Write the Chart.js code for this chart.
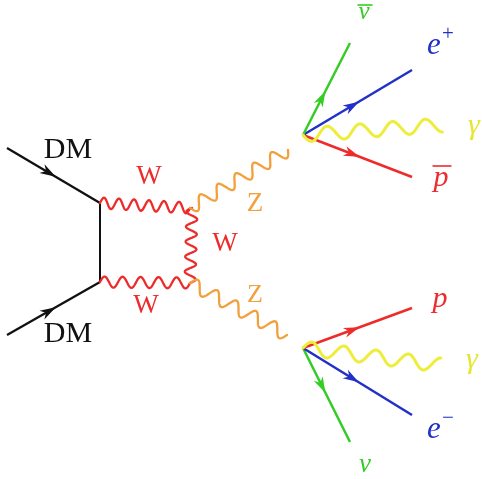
<!DOCTYPE html>
<html><head><meta charset="utf-8">
<script src="https://cdn.jsdelivr.net/npm/chart.js@4"></script>
<style>html,body{margin:0;padding:0;background:#fff;overflow:hidden}#wrap{width:482px;height:479px}</style>
</head><body><div id="wrap"><canvas id="c" width="482" height="479"></canvas></div>
<script>
// ---- diagram data (coordinates in the picture's own units) ----
const lineNames = ['DM in (top)','DM in (bottom)','DM exchange','W (top)','W (exchange)','W (bottom)','Z (top)','Z (bottom)',
                   'anti-neutrino','positron','photon (top)','antiproton','proton','photon (bottom)','electron','neutrino'];
const lineKinds = ['fermion','fermion','plain','boson','boson','boson','boson','boson',
                   'fermion','fermion','boson','fermion','fermion','boson','fermion','fermion'];
const startX = [7, 7, 100, 100, 192, 100, 190, 190, 303, 303, 303, 303, 303, 303, 303, 303];
const startY = [148, 335, 203, 203, 208, 282, 208, 283, 135, 135, 135, 135, 348, 348, 348, 348];
const endX   = [100, 100, 100, 190, 190, 190, 288, 287, 350, 412, 442, 412, 412, 440, 412, 350];
const endY   = [203, 282, 282, 208, 283, 283, 150, 335, 43, 70, 125, 177, 308, 365, 415, 442];

const labelTexts = ['DM','DM','W','W','W','Z','Z','ν','e','γ','p','p','γ','e','ν'];
const labelMarks = ['','','','','','','','bar','+','','bar','','','−',''];
const labelX = [68, 68, 149, 225, 146, 255, 255, 364, 434, 474, 441, 440, 472, 434, 365];
const labelY = [158, 342, 184, 251, 313, 211, 302, 19, 54, 134, 186, 307, 368, 438, 472];

// ---- styles ----
const C = {black:'#111111', red:'#ee2b2b', orange:'#f2a03c', yellow:'#eded3c', green:'#35cc25', blue:'#2230c8'};
const lineColors = [C.black,C.black,C.black,C.red,C.red,C.red,C.orange,C.orange,
                    C.green,C.blue,C.yellow,C.red,C.red,C.yellow,C.blue,C.green];
const lineWidths = [2.3,2.3,2,2.3,2.3,2.3,2.3,2.3,2.5,2.5,3,2.5,2.5,3,2.5,2.5];
const wavePeriods = [0,0,0,6,5,5,5.5,5,0,0,4.25,0,0,4.25,0,0];
const waveAmp     = [0,0,0,5.5,5.5,5.5,6.5,6.5,0,0,7,0,0,7,0,0];
const waveSign    = [0,0,0,-1,1,-1,1,-1,0,0,1,0,0,-1,0,0];
const arrowPos    = [0.45,0.45,0,0,0,0,0,0,0.4,0.45,0,0.45,0.45,0,0.45,0.4];
const serif = '"Liberation Serif"';
const labelColors = [C.black,C.black,C.red,C.red,C.red,C.orange,C.orange,C.green,C.blue,'#e6e62e',C.red,C.red,'#e6e62e',C.blue,C.green];
const labelFonts  = ['30px '+serif,'30px '+serif,'27px '+serif,'27px '+serif,'27px '+serif,'27px '+serif,'26px '+serif,
                     'italic 25px '+serif,'italic 31px '+serif,'italic 30px '+serif,'italic 30px '+serif,
                     'italic 30px '+serif,'italic 30px '+serif,'italic 31px '+serif,'italic 27px '+serif];

const datasets = lineNames.map((name,i)=>({
  label: name,
  data: [{x:startX[i],y:startY[i]},{x:endX[i],y:endY[i]}],
  showLine: lineKinds[i] !== 'boson',
  borderColor: lineColors[i],
  borderWidth: lineWidths[i],
  pointRadius: 0,
  clip: false,
  kind: lineKinds[i],
  idx: i
}));
datasets.push({
  label: 'labels',
  data: labelX.map((x,i)=>({x:x,y:labelY[i]})),
  showLine: false, pointRadius: 0, clip: false, kind: 'labels'
});

const feynman = {
  id: 'feynman',
  afterDatasetsDraw(chart){
    const ctx = chart.ctx;
    chart.data.datasets.forEach((ds,di)=>{
      const meta = chart.getDatasetMeta(di);
      if (ds.kind === 'labels'){
        meta.data.forEach((el,i)=>{
          ctx.save();
          ctx.font = labelFonts[i];
          ctx.fillStyle = labelColors[i];
          ctx.strokeStyle = labelColors[i];
          ctx.textAlign = 'center';
          ctx.textBaseline = 'alphabetic';
          const t = labelTexts[i];
          ctx.fillText(t, el.x, el.y);
          const w = ctx.measureText(t).width;
          const m = labelMarks[i];
          if (m === 'bar'){
            ctx.lineWidth = 1.6;
            const up = (t === 'p') ? 20 : 14;
            ctx.beginPath();
            ctx.moveTo(el.x - w/2 - 1, el.y - up);
            ctx.lineTo(el.x + w/2 + 3, el.y - up);
            ctx.stroke();
          } else if (m){
            ctx.font = '21px '+serif;
            ctx.textAlign = 'left';
            ctx.fillText(m, el.x + w/2 + 1, el.y - 14);
          }
          ctx.restore();
        });
        return;
      }
      const i = ds.idx;
      const a = meta.data[0], b = meta.data[1];
      const dx = b.x - a.x, dy = b.y - a.y, L = Math.hypot(dx,dy);
      const ux = dx/L, uy = dy/L, nx = -uy, ny = ux;
      ctx.save();
      if (ds.kind === 'boson'){
        ctx.strokeStyle = lineColors[i];
        ctx.lineWidth = lineWidths[i];
        ctx.lineJoin = 'round'; ctx.lineCap = 'round';
        ctx.beginPath();
        const N = 240;
        for (let k=0;k<=N;k++){
          const t = k/N;
          const off = waveSign[i]*waveAmp[i]*Math.sin(2*Math.PI*wavePeriods[i]*t);
          const px = a.x + dx*t + nx*off, py = a.y + dy*t + ny*off;
          if (k===0) ctx.moveTo(px,py); else ctx.lineTo(px,py);
        }
        ctx.stroke();
      } else if (ds.kind === 'fermion'){
        const t = arrowPos[i];
        const cx = a.x + dx*t, cy = a.y + dy*t;
        const AL = 16, AW = 5;
        ctx.fillStyle = lineColors[i];
        ctx.beginPath();
        ctx.moveTo(cx + ux*AL/2, cy + uy*AL/2);
        ctx.lineTo(cx - ux*AL/2 + nx*AW, cy - uy*AL/2 + ny*AW);
        ctx.lineTo(cx - ux*AL/5, cy - uy*AL/5);
        ctx.lineTo(cx - ux*AL/2 - nx*AW, cy - uy*AL/2 - ny*AW);
        ctx.closePath();
        ctx.fill();
      }
      ctx.restore();
    });
  }
};

new Chart(document.getElementById('c'), {
  type: 'scatter',
  data: { datasets },
  options: {
    responsive: false,
    animation: false,
    devicePixelRatio: 1,
    layout: { padding: 0 },
    plugins: { legend: {display:false}, tooltip: {enabled:false} },
    scales: {
      x: { type:'linear', min:0, max:482, display:false },
      y: { type:'linear', min:0, max:479, reverse:true, display:false }
    }
  },
  plugins: [feynman]
});
</script></body></html>
